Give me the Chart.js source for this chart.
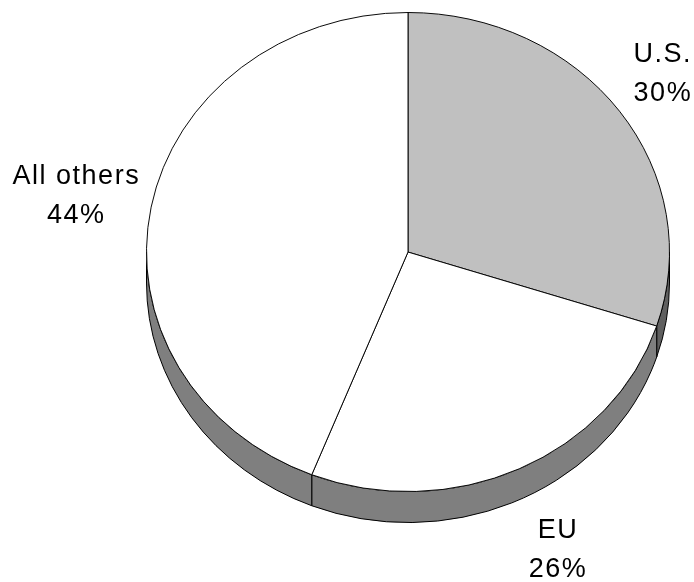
<!DOCTYPE html>
<html>
<head>
<meta charset="utf-8">
<script src="https://cdn.jsdelivr.net/npm/chart.js@4/dist/chart.umd.min.js"></script>
<style>
  body { margin: 0; background: #fff; }
  #wrap { width: 694px; height: 582px; }
</style>
</head>
<body>
<div id="wrap"><canvas id="chart"></canvas></div>
<script>
// data
const regions = ["U.S.", "EU", "All others"];
const shares = [30, 26, 44];

const faceColors = ["#c0c0c0", "#ffffff", "#ffffff"];
const SQUASH = 0.916; // vertical squash of the top face
const DEPTH = 31;     // thickness of the disc, px

// side of the disc = face colour at half brightness
function shade(hex) {
  const n = parseInt(hex.slice(1), 16);
  return "rgb(" + ((n >> 16 & 255) >> 1) + "," + ((n >> 8 & 255) >> 1) + "," + ((n & 255) >> 1) + ")";
}

const pie3d = {
  id: "pie3d",
  beforeDatasetsDraw(chart) {
    const ctx = chart.ctx;
    const arcs = chart.getDatasetMeta(0).data;
    const colors = chart.data.datasets[0].backgroundColor;

    // draw the visible front wall of each slice
    ctx.save();
    arcs.forEach((arc, i) => {
      const { x, y, outerRadius: r, startAngle, endAngle } =
        arc.getProps(["x", "y", "outerRadius", "startAngle", "endAngle"], true);
      const cy = (y - r) + r * SQUASH;
      for (let k = -1; k <= 1; k++) {
        const lo = Math.max(startAngle, 2 * Math.PI * k);
        const hi = Math.min(endAngle, 2 * Math.PI * k + Math.PI);
        if (lo >= hi) continue;
        ctx.beginPath();
        ctx.ellipse(x, cy, r, r * SQUASH, 0, lo, hi);
        ctx.ellipse(x, cy + DEPTH, r, r * SQUASH, 0, hi, lo, true);
        ctx.closePath();
        ctx.fillStyle = shade(colors[i]);
        ctx.fill();
        ctx.lineWidth = 1;
        ctx.strokeStyle = "#000";
        ctx.stroke();
      }
    });
    ctx.restore();

    // squash the pie itself into the top face (restored after drawing)
    const a0 = arcs[0];
    const top = a0.y - a0.outerRadius;
    ctx.save();
    ctx.translate(0, top);
    ctx.scale(1, SQUASH);
    ctx.translate(0, -top);
  },
  afterDatasetsDraw(chart, args, opts) {
    const ctx = chart.ctx;
    ctx.restore();

    const arcs = chart.getDatasetMeta(0).data;
    const total = shares.reduce((a, b) => a + b, 0);
    ctx.save();
    ctx.font = "27px 'Liberation Sans', Arial, sans-serif";
    ctx.letterSpacing = "1.5px";
    ctx.fillStyle = "#000";
    ctx.textAlign = "center";
    ctx.textBaseline = "alphabetic";
    arcs.forEach((arc, i) => {
      const { x, y, outerRadius: r, startAngle, endAngle } =
        arc.getProps(["x", "y", "outerRadius", "startAngle", "endAngle"], true);
      const cy = (y - r) + r * SQUASH;
      const mid = (startAngle + endAngle) / 2;
      const [kx, ky] = opts.distance[i];
      const px = x + r * kx * Math.cos(mid) + 1;
      const py = cy + r * SQUASH * ky * Math.sin(mid);
      const pct = Math.round(shares[i] / total * 100) + "%";
      ctx.fillText(regions[i], px, py - 10);
      ctx.fillText(pct, px, py + 29);
    });
    ctx.restore();
  }
};

new Chart(document.getElementById("chart"), {
  type: "pie",
  data: {
    labels: regions,
    datasets: [{
      data: shares,
      backgroundColor: faceColors,
      borderColor: "#000",
      borderWidth: 1,
      clip: false
    }]
  },
  options: {
    responsive: true,
    maintainAspectRatio: false,
    animation: false,
    events: [],
    layout: { padding: { left: 146, right: 24, top: 12, bottom: 46 } },
    plugins: {
      legend: { display: false },
      tooltip: { enabled: false },
      pie3d: { distance: [[1.2, 1.28], [1.338, 1.366], [1.295, 1.284]] }
    }
  },
  plugins: [pie3d]
});
</script>
</body>
</html>
